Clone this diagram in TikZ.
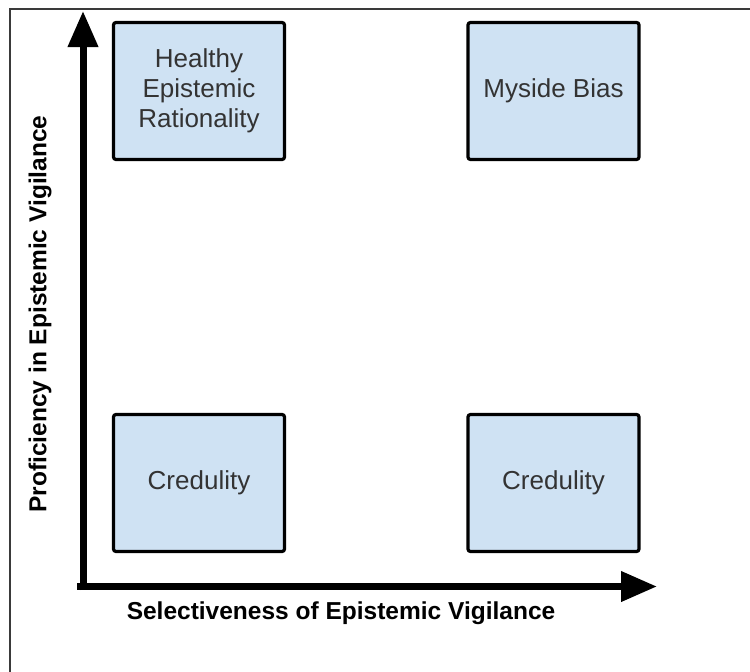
\documentclass[tikz,border=0pt]{standalone}
\usepackage{fontspec}
\setmainfont{Liberation Sans}
\usetikzlibrary{arrows.meta}
\definecolor{boxfill}{HTML}{CFE2F3}
\definecolor{boxtext}{HTML}{333333}
\definecolor{framegray}{HTML}{3A3A3A}
\begin{document}
\begin{tikzpicture}[x=1pt,y=-1pt,
  quadrant/.style={draw=black, line width=3.2pt, fill=boxfill, rounded corners=2.5pt,
    minimum width=171pt, minimum height=137pt, inner sep=0pt, align=center,
    text=boxtext, font=\fontsize{26}{30}\selectfont},
  axis/.style={line width=7pt, -{Triangle[length=36pt,width=29pt]}},
  axislabel/.style={inner sep=0pt, text=black, font=\bfseries\fontsize{24.5}{28}\selectfont}
]
\useasboundingbox (0,0) rectangle (750,672);
% outer frame (only its left and top edges fall inside the page)
\draw[framegray, line width=1.2pt] (10,672) -- (10,9) -- (750,9);

% the four quadrants
\node[quadrant] (healthy) at (199,91) {Healthy\\Epistemic\\Rationality};
\node[quadrant] (myside)  at (553.5,91) {Myside Bias};
\node[quadrant] (credA)   at (199,483) {Credulity};
\node[quadrant] (credB)   at (553.5,483) {Credulity};

% axes
\coordinate (ybase) at (83,590);
\coordinate (ytop)  at (83,11);
\coordinate (xbase) at (77,586.5);
\coordinate (xend)  at (657,586.5);
\draw[axis] (ybase) -- (ytop);
\draw[axis] (xbase) -- (xend);

% axis labels
\node[axislabel] (xlabel) at (341,613) {Selectiveness of Epistemic Vigilance};
\node[axislabel, rotate=90] (ylabel) at (40,314) {Proficiency in Epistemic Vigilance};
\end{tikzpicture}
\end{document}
